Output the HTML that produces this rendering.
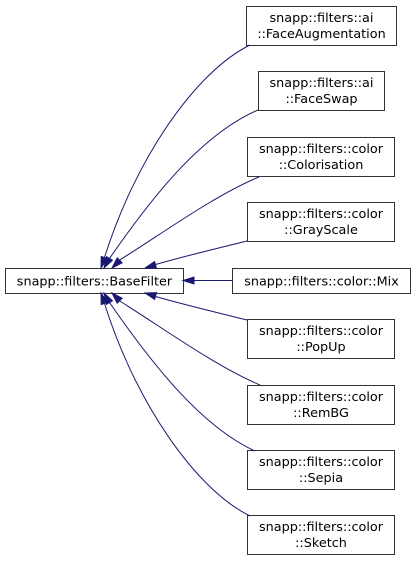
<!DOCTYPE html>
<html><head><meta charset="utf-8"><style>
html,body{margin:0;padding:0;background:#fff;}
svg{display:block;}
text{font-family:"DejaVu Sans","Liberation Sans",sans-serif;font-size:12.8px;fill:#000;}
</style></head><body>
<svg width="416" height="561" viewBox="0 0 416 561" xmlns="http://www.w3.org/2000/svg">
<g fill="#fff" stroke="#333" stroke-width="1">
<rect x="246.5" y="6.5" width="150" height="39"/>
<rect x="258.5" y="71.5" width="126" height="39"/>
<rect x="247.5" y="137.5" width="147" height="39"/>
<rect x="247.5" y="202.5" width="147" height="39"/>
<rect x="5.5" y="268.5" width="178" height="25"/>
<rect x="232.5" y="268.5" width="178" height="25"/>
<rect x="247.5" y="319.5" width="147" height="39"/>
<rect x="247.5" y="385.5" width="147" height="39"/>
<rect x="247.5" y="450.5" width="147" height="39"/>
<rect x="247.5" y="515.5" width="147" height="39"/>
</g>
<g fill="none" stroke="#191970" stroke-width="1">
<path d="M250,45 C195,72 135,160 104.5,257.5"/>
<path d="M258,110 C200,135 150,200 109.5,258.5"/>
<path d="M259,177 C215,195 160,235 119.7,260"/>
<path d="M247,241 C215,249 185,256 155.6,264.5"/>
<path d="M232,280.5 L194,280.5"/>
<path d="M247,320 C215,312 185,305 155.6,296.5"/>
<path d="M260,385 C215,366 160,326 119.7,301"/>
<path d="M255,451 C200,426 150,361 109.5,302.5"/>
<path d="M250,516 C195,489 135,401 104.5,303.5"/>
</g>
<g fill="#191970" stroke="#191970" stroke-width="1">
<polygon points="101,268 107.8,258.6 101.2,256.4"/>
<polygon points="104,268 112.5,260.2 106.5,256.7"/>
<polygon points="112,268 122.2,262.7 117.2,257.8"/>
<polygon points="145,268 156.5,268.4 154.6,261.6"/>
<polygon points="183,280.5 194,277 194,284"/>
<polygon points="145,293 156.5,292.6 154.6,299.4"/>
<polygon points="112,293 122.2,298.3 117.2,303.2"/>
<polygon points="104,293 112.5,300.8 106.5,304.3"/>
<polygon points="101,293 107.8,302.4 101.2,304.6"/>
</g>
<g text-anchor="middle">
<text x="321.5" y="22">snapp::filters::ai</text><text x="321.5" y="38">::FaceAugmentation</text>
<text x="321.5" y="87">snapp::filters::ai</text><text x="321.5" y="103">::FaceSwap</text>
<text x="321" y="153">snapp::filters::color</text><text x="321" y="169">::Colorisation</text>
<text x="321" y="218">snapp::filters::color</text><text x="321" y="234">::GrayScale</text>
<text x="94.5" y="285.5">snapp::filters::BaseFilter</text>
<text x="321.5" y="285.5">snapp::filters::color::Mix</text>
<text x="321" y="335">snapp::filters::color</text><text x="321" y="351">::PopUp</text>
<text x="321" y="401">snapp::filters::color</text><text x="321" y="417">::RemBG</text>
<text x="321" y="466">snapp::filters::color</text><text x="321" y="482">::Sepia</text>
<text x="321" y="531">snapp::filters::color</text><text x="321" y="547">::Sketch</text>
</g>
</svg>
</body></html>
